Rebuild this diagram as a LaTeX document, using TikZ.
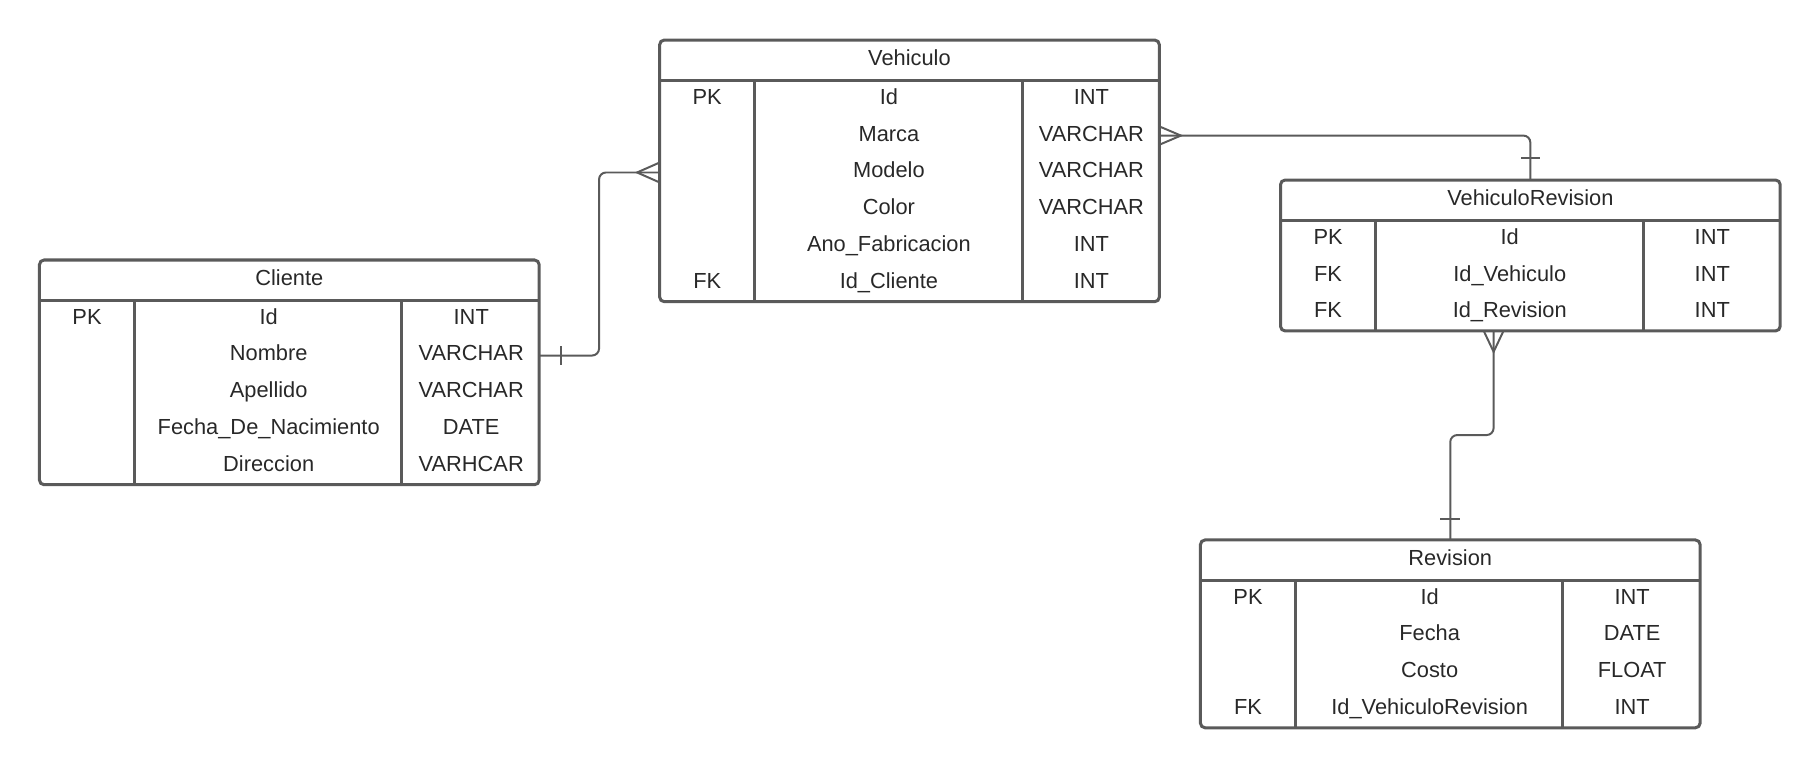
\documentclass[tikz,border=0pt]{standalone}
\usepackage{fontspec}
\setmainfont{Liberation Sans}
\usetikzlibrary{calc}
\definecolor{lc}{RGB}{90,90,90}
\definecolor{tc}{RGB}{40,40,40}
\tikzset{
  tab/.style={draw=lc, line width=2.6pt, rounded corners=4pt, inner sep=0pt, outer sep=0pt, minimum width=430.5pt, anchor=north west},
  tabline/.style={draw=lc, line width=2.6pt},
  rowbox/.style={inner sep=0pt, outer sep=0pt, minimum width=430.5pt, minimum height=31.8pt, anchor=north west},
  txt/.style={text=tc, font=\fontsize{18.8}{22}\selectfont, inner sep=0pt, anchor=base},
  conn/.style={draw=lc, line width=1.7pt, rounded corners=6pt},
  ertick/.style={draw=lc, line width=1.7pt},
}
\newcommand{\ertable}[6]{%
  \node[tab, minimum height={34.6pt+#5*31.8pt}] (#1) at (#2,#3) {};
  \node[txt] (#1T) at ($(#1.north)+(0,21.6)$) {#4};
  \draw[tabline] ($(#1.north west)+(0,34.6)$) -- ($(#1.north east)+(0,34.6)$);
  \draw[tabline] ($(#1.north west)+(81.6,34.6)$) -- ($(#1.south west)+(81.6,0)$);
  \draw[tabline] ($(#1.north west)+(312.3,34.6)$) -- ($(#1.south west)+(312.3,0)$);
  \foreach \kk/\nm/\ty [count=\i] in {#6} {
    \node[rowbox] (#1R\i) at ($(#1.north west)+(0,{34.6+(\i-1)*31.8})$) {};
    \node[txt] (#1K\i) at ($(#1R\i.center)+(-174.25,4.7)$) {\kk};
    \node[txt] (#1N\i) at ($(#1R\i.center)+(-17.75,4.7)$) {\nm};
    \node[txt] (#1Y\i) at ($(#1R\i.center)+(156.75,4.7)$) {\ty};
  }
}
\begin{document}
\begin{tikzpicture}[x=1pt,y=-1pt]
\useasboundingbox (0,0) rectangle (1568,661.6);

\ertable{veh}{568.3}{34.5}{Vehiculo}{6}{PK/Id/INT, /Marca/VARCHAR, /Modelo/VARCHAR, /Color/VARCHAR, /Ano\_Fabricacion/INT, FK/Id\_Cliente/INT}
\ertable{cli}{34}{224}{Cliente}{5}{PK/Id/INT, /Nombre/VARCHAR, /Apellido/VARCHAR, /Fecha\_De\_Nacimiento/DATE, /Direccion/VARHCAR}
\ertable{vr}{1103.2}{155.1}{VehiculoRevision}{3}{PK/Id/INT, FK/Id\_Vehiculo/INT, FK/Id\_Revision/INT}
\ertable{rev}{1034.2}{465.2}{Revision}{4}{PK/Id/INT, /Fecha/DATE, /Costo/FLOAT, FK/Id\_VehiculoRevision/INT}

% Cliente -> Vehiculo
\draw[conn] (cliR2.east) -- ($(cliR2.east)+(51.6,0)$) |- (vehR3.west);
\draw[ertick] ($(cliR2.east)+(19,-8)$) -- ($(cliR2.east)+(19,8)$);
\draw[ertick] ($(vehR3.west)+(0,-8.6)$) -- ($(vehR3.west)+(-19.4,0)$) -- ($(vehR3.west)+(0,8.6)$);

% Vehiculo -> VehiculoRevision
\draw[conn] (vehR2.east) -| (vr.north);
\draw[ertick] ($(vehR2.east)+(0,-7.9)$) -- ($(vehR2.east)+(18.6,0)$) -- ($(vehR2.east)+(0,7.9)$);
\draw[ertick] ($(vr.north)+(-8,-18.7)$) -- ($(vr.north)+(8,-18.7)$);

% VehiculoRevision -> Revision
\coordinate (vrb) at ($(vr.south west)+(183.6,0)$);
\coordinate (bend) at (1268,374.8);
\draw[conn] (vrb) -- (vrb |- bend) -- (rev.north |- bend) -- (rev.north);
\draw[ertick] ($(vrb)+(-8.5,0)$) -- ($(vrb)+(0,18)$) -- ($(vrb)+(8.5,0)$);
\draw[ertick] ($(rev.north)+(-8.8,-18)$) -- ($(rev.north)+(8.8,-18)$);
\end{tikzpicture}
\end{document}
